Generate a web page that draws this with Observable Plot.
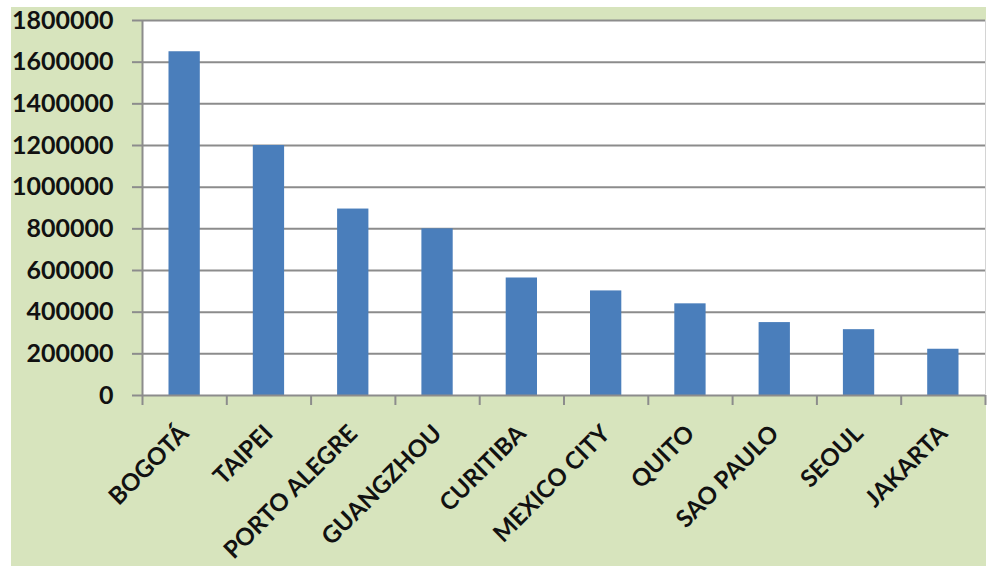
<!DOCTYPE html>
<html>
<head>
<meta charset="utf-8">
<script src="https://cdn.jsdelivr.net/npm/d3@7"></script>
<script src="https://cdn.jsdelivr.net/npm/@observablehq/plot@0.6"></script>
<style>
  html, body { margin: 0; padding: 0; background: #ffffff; }
  #wrap { position: absolute; left: 11px; top: 7px; width: 975px; height: 559px; background: #d7e4bd; }
  #wrap svg { display: block; overflow: visible; }
</style>
</head>
<body>
<div id="wrap"></div>
<script>
const categories = ["BOGOTÁ", "TAIPEI", "PORTO ALEGRE", "GUANGZHOU", "CURITIBA", "MEXICO CITY", "QUITO", "SAO PAULO", "SEOUL", "JAKARTA"];
const values = [1650000, 1200000, 895000, 800000, 564000, 502000, 440000, 350000, 316000, 222000];
const yTicks = [0, 200000, 400000, 600000, 800000, 1000000, 1200000, 1400000, 1600000, 1800000];

const data = categories.map((city, i) => ({city, i, value: values[i]}));
const boundaries = d3.range(categories.length + 1);
const centers = categories.map((_, i) => i + 0.5);

const chart = Plot.plot({
  width: 975,
  height: 559,
  marginLeft: 131,
  marginTop: 13,
  marginRight: 1,
  marginBottom: 171,
  style: {background: "transparent", fontFamily: "Lato, 'Open Sans', sans-serif", color: "#111", overflow: "visible"},
  x: {type: "linear", domain: [0, categories.length], axis: null},
  y: {domain: [0, 1800000], axis: null},
  marks: [
    Plot.frame({fill: "#ffffff", stroke: null}),
    Plot.gridY(yTicks.slice(1), {stroke: "#8c8c8c", strokeOpacity: 1, strokeWidth: 2}),
    Plot.ruleX([categories.length], {stroke: "#d4d4d4", strokeWidth: 1}),
    Plot.rect(data, {x1: "i", x2: d => d.i + 1, y1: 0, y2: "value", fill: "#4a7ebb", insetLeft: 26.5, insetRight: 26.5}),
    Plot.ruleY([0], {stroke: "#8c8c8c", strokeWidth: 2}),
    Plot.ruleX([0], {stroke: "#8c8c8c", strokeWidth: 2}),
    Plot.axisY({ticks: yTicks, tickFormat: d => String(d), tickSize: 10, tickPadding: 19, label: null,
      stroke: "#8c8c8c", strokeWidth: 2, fill: "#111", fontSize: 25, fontWeight: "bold"}),
    Plot.axisX({ticks: boundaries, tickFormat: () => "", tickSize: 10, label: null, stroke: "#8c8c8c", strokeWidth: 2}),
    Plot.axisX({ticks: centers, tickFormat: d => categories[Math.floor(d)], tickSize: 0, tickPadding: 34, label: null,
      tickRotate: -45, fill: "#111", fontSize: 24, fontWeight: "bold"})
  ]
});
document.getElementById("wrap").appendChild(chart);
</script>
</body>
</html>
